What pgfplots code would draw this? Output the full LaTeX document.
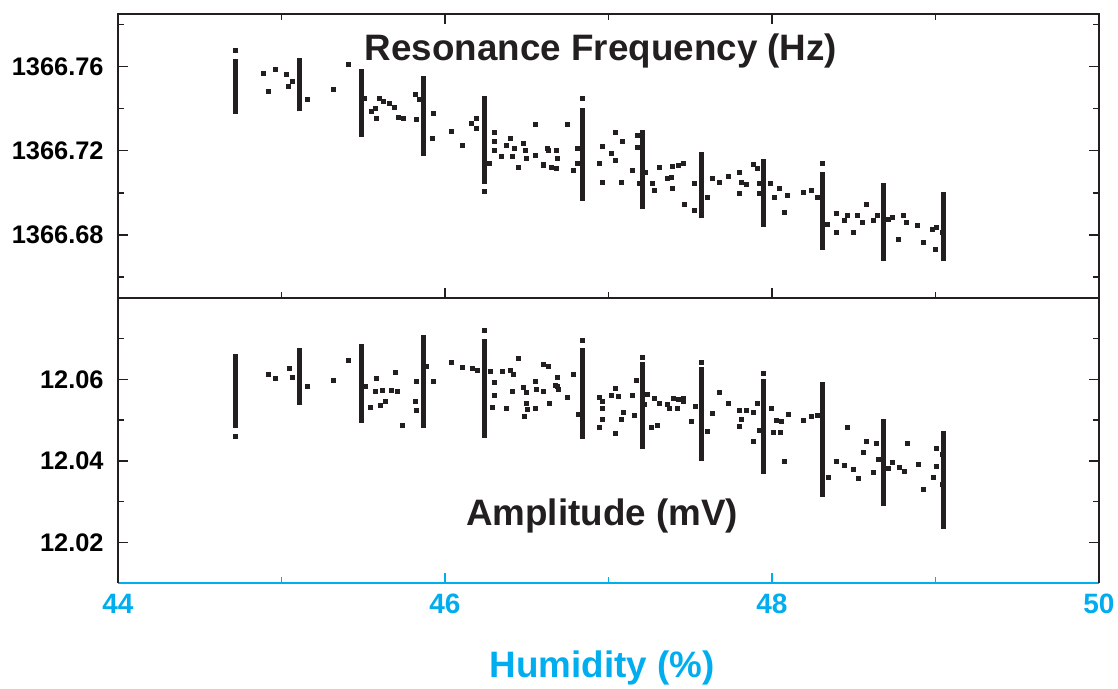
\documentclass[border=0pt]{standalone}
\usepackage{fontspec}
\setmainfont{Liberation Sans}
\setsansfont{Liberation Sans}
\usepackage{pgfplots}
\usepackage{pgfplotstable}
\pgfplotsset{compat=1.18}
\definecolor{hcyan}{RGB}{0,174,239}
\definecolor{ink}{RGB}{35,31,32}

% 1366.xxxx is too fine for the fpu mantissa: shift it by 1366 with plain TeX dimensions
\newdimen\fdim
\makeatletter
\pgfplotsset{freq shift/.style={
  y coord trafo/.code={%
    \pgfmathfloatparsenumber{##1}\pgfmathfloattofixed{\pgfmathresult}%
    \fdim=\pgfmathresult pt\relax\advance\fdim by -1366pt\relax
    \edef\pgfmathresult{\strip@pt\fdim}}}}
\makeatother

\pgfplotsset{
  panel/.style={
    scale only axis, width=490.5pt,
    xmin=44, xmax=50, xtick={44,46,48,50}, minor x tick num=1,
    tick align=inside,
    major tick length=5pt, minor tick length=3pt,
    tick style={ink, line width=0.7pt},
    axis line style={ink, line width=1pt},
    tick label style={font=\fontsize{12.7}{14}\selectfont\bfseries},
    /pgf/number format/assume math mode=true,
    xticklabel={\textbf{\pgfmathprintnumber{\tick}}},
    yticklabel={\textbf{\pgfmathprintnumber{\tick}}},
    yticklabel style={inner sep=0pt, xshift=-7pt},
  },
  clusterbar/.style={ink, line width=2.5pt, mark=none, forget plot},
  dots/.style={only marks, mark=square*, mark size=1pt, ink},
}

% resonance frequency, single points
\pgfplotstableread{
x y
44.720 1366.7675
44.888 1366.7568
44.965 1366.7587
44.921 1366.7483
45.032 1366.7565
45.065 1366.7531
45.043 1366.7504
45.157 1366.7443
45.320 1366.7491
45.408 1366.7611
45.506 1366.7451
45.550 1366.7387
45.572 1366.7400
45.583 1366.7355
45.598 1366.7451
45.626 1366.7435
45.659 1366.7427
45.692 1366.7406
45.714 1366.7358
45.747 1366.7355
45.817 1366.7467
45.823 1366.7347
45.845 1366.7443
45.928 1366.7379
45.926 1366.7259
46.037 1366.7294
46.107 1366.7227
46.162 1366.7331
46.194 1366.7352
46.194 1366.7307
46.240 1366.7006
46.271 1366.7139
46.303 1366.7286
46.303 1366.7243
46.303 1366.7203
46.347 1366.7171
46.375 1366.7227
46.398 1366.7259
46.413 1366.7171
46.424 1366.7211
46.446 1366.7123
46.478 1366.7235
46.489 1366.7203
46.500 1366.7163
46.550 1366.7326
46.555 1366.7179
46.599 1366.7134
46.631 1366.7203
46.653 1366.7123
46.686 1366.7163
46.626 1366.7211
46.683 1366.7203
46.604 1366.7131
46.683 1366.7115
46.746 1366.7323
46.784 1366.7107
46.807 1366.7211
46.807 1366.7139
46.840 1366.7451
46.942 1366.7139
46.965 1366.7219
46.965 1366.7051
47.016 1366.7187
47.044 1366.7288
47.044 1366.7155
47.077 1366.7051
47.088 1366.7243
47.144 1366.7107
47.178 1366.7272
47.178 1366.7214
47.190 1366.7043
47.223 1366.7099
47.268 1366.7043
47.280 1366.7011
47.314 1366.7123
47.359 1366.7067
47.382 1366.7075
47.393 1366.7126
47.389 1366.7019
47.426 1366.7131
47.456 1366.7139
47.467 1366.6947
47.524 1366.7043
47.528 1366.6915
47.607 1366.6979
47.636 1366.7067
47.681 1366.7051
47.731 1366.7080
47.798 1366.7096
47.814 1366.7051
47.798 1366.6995
47.843 1366.7038
47.884 1366.7136
47.911 1366.7115
47.920 1366.7043
47.920 1366.6995
47.990 1366.7046
48.012 1366.6979
48.046 1366.7019
48.096 1366.6990
48.076 1366.6907
48.195 1366.7000
48.238 1366.7011
48.276 1366.6979
48.310 1366.7139
48.340 1366.6851
48.396 1366.6902
48.396 1366.6811
48.441 1366.6867
48.464 1366.6891
48.498 1366.6811
48.524 1366.6891
48.554 1366.6859
48.576 1366.6944
48.621 1366.6867
48.644 1366.6891
48.711 1366.6875
48.734 1366.6883
48.772 1366.6779
48.801 1366.6891
48.823 1366.6859
48.892 1366.6846
48.925 1366.6766
48.982 1366.6827
49.004 1366.6835
49.000 1366.6731
49.040 1366.6811
}\freqdots

% amplitude, single points
\pgfplotstableread{
x y
44.720 12.0460
44.917 12.0612
44.965 12.0602
45.048 12.0627
45.065 12.0606
45.157 12.0582
45.320 12.0598
45.408 12.0647
45.511 12.0584
45.546 12.0532
45.572 12.0571
45.583 12.0602
45.605 12.0536
45.620 12.0574
45.633 12.0545
45.670 12.0574
45.696 12.0618
45.709 12.0570
45.742 12.0487
45.823 12.0594
45.817 12.0547
45.823 12.0524
45.928 12.0596
45.889 12.0633
46.042 12.0641
46.107 12.0630
46.166 12.0627
46.201 12.0621
46.240 12.0720
46.275 12.0619
46.303 12.0592
46.303 12.0561
46.288 12.0532
46.354 12.0619
46.375 12.0530
46.402 12.0623
46.420 12.0612
46.413 12.0570
46.446 12.0652
46.478 12.0581
46.500 12.0567
46.500 12.0542
46.485 12.0510
46.507 12.0526
46.550 12.0596
46.555 12.0530
46.560 12.0575
46.599 12.0637
46.600 12.0570
46.631 12.0633
46.640 12.0542
46.686 12.0604
46.686 12.0584
46.604 12.0571
46.637 12.0542
46.673 12.0586
46.694 12.0575
46.746 12.0555
46.788 12.0612
46.813 12.0515
46.840 12.0697
46.942 12.0556
46.960 12.0547
46.960 12.0529
46.942 12.0483
46.965 12.0503
47.016 12.0561
47.044 12.0577
47.060 12.0559
47.044 12.0467
47.077 12.0501
47.090 12.0520
47.144 12.0561
47.170 12.0598
47.160 12.0512
47.210 12.0655
47.235 12.0563
47.220 12.0538
47.264 12.0481
47.298 12.0487
47.280 12.0553
47.314 12.0541
47.359 12.0538
47.370 12.0529
47.397 12.0553
47.420 12.0530
47.426 12.0551
47.456 12.0553
47.460 12.0547
47.510 12.0497
47.530 12.0534
47.570 12.0641
47.607 12.0473
47.636 12.0516
47.681 12.0567
47.731 12.0540
47.798 12.0524
47.814 12.0501
47.798 12.0485
47.843 12.0524
47.884 12.0520
47.884 12.0448
47.911 12.0540
47.920 12.0474
47.950 12.0615
47.997 12.0529
48.024 12.0499
48.058 12.0497
48.010 12.0469
48.050 12.0469
48.076 12.0399
48.098 12.0514
48.195 12.0500
48.238 12.0510
48.276 12.0511
48.346 12.0359
48.396 12.0399
48.441 12.0389
48.464 12.0483
48.498 12.0378
48.531 12.0356
48.558 12.0421
48.576 12.0448
48.621 12.0371
48.639 12.0444
48.650 12.0403
48.711 12.0382
48.734 12.0396
48.779 12.0384
48.809 12.0374
48.829 12.0444
48.898 12.0392
48.925 12.0331
48.986 12.0360
49.004 12.0430
49.004 12.0386
49.040 12.0415
49.040 12.0341
}\ampdots

\begin{document}
\begin{tikzpicture}
\begin{axis}[panel, name=top, height=142pt, freq shift,
    ymin=1366.65, ymax=1366.785,
    ytick={1366.68,1366.72,1366.76},
    yticklabels={1366.68,1366.72,1366.76},
    minor ytick={1366.66,1366.70,1366.74,1366.78},
    xticklabels={}, tick pos=both]
  \addplot[dots] table[x=x, y=y] {\freqdots};
  \addplot[clusterbar] coordinates {(44.72,1366.7374) (44.72,1366.7635)};
  \addplot[clusterbar] coordinates {(45.11,1366.7387) (45.11,1366.7643)};
  \addplot[clusterbar] coordinates {(45.49,1366.7267) (45.49,1366.7590)};
  \addplot[clusterbar] coordinates {(45.87,1366.7176) (45.87,1366.7554)};
  \addplot[clusterbar] coordinates {(46.24,1366.7043) (46.24,1366.7459)};
  \addplot[clusterbar] coordinates {(46.84,1366.6960) (46.84,1366.7403)};
  \addplot[clusterbar] coordinates {(47.21,1366.6923) (47.21,1366.7300)};
  \addplot[clusterbar] coordinates {(47.57,1366.6878) (47.57,1366.7192)};
  \addplot[clusterbar] coordinates {(47.95,1366.6838) (47.95,1366.7160)};
  \addplot[clusterbar] coordinates {(48.31,1366.6728) (48.31,1366.7100)};
  \addplot[clusterbar] coordinates {(48.68,1366.6674) (48.68,1366.7048)};
  \addplot[clusterbar] coordinates {(49.05,1366.6674) (49.05,1366.7003)};
  \node[font=\fontsize{18.4}{20}\selectfont\bfseries, text=ink, anchor=base]
    at (axis description cs:0.4924,0.8345) {Resonance Frequency (Hz)};
\end{axis}

\begin{axis}[panel, at={(top.south west)}, anchor=north west, height=142.5pt,
    ymin=12.01, ymax=12.08,
    ytick={12.02,12.04,12.06}, minor ytick={12.03,12.05,12.07},
    separate axis lines, axis x line*=bottom, axis y line*=box,
    x axis line style={hcyan, line width=1.3pt},
    x tick style={hcyan},
    xticklabel style={text=hcyan, anchor=base, yshift=-15.5pt,
      font=\fontsize{14}{16}\selectfont\bfseries},
    yticklabel style={/pgf/number format/fixed, /pgf/number format/fixed zerofill,
      /pgf/number format/precision=2},
    xlabel={Humidity (\%)},
    xlabel style={at={(axis description cs:0.4935,0)}, anchor=base, yshift=-47.3pt,
      font=\fontsize{18.4}{20}\selectfont\bfseries, text=hcyan}]
  \addplot[dots] table[x=x, y=y] {\ampdots};
  \addplot[clusterbar] coordinates {(44.72,12.0481) (44.72,12.0663)};
  \addplot[clusterbar] coordinates {(45.11,12.0537) (45.11,12.0676)};
  \addplot[clusterbar] coordinates {(45.49,12.0493) (45.49,12.0686)};
  \addplot[clusterbar] coordinates {(45.87,12.0481) (45.87,12.0708)};
  \addplot[clusterbar] coordinates {(46.24,12.0456) (46.24,12.0699)};
  \addplot[clusterbar] coordinates {(46.84,12.0454) (46.84,12.0678)};
  \addplot[clusterbar] coordinates {(47.21,12.0428) (47.21,12.0644)};
  \addplot[clusterbar] coordinates {(47.57,12.0400) (47.57,12.0630)};
  \addplot[clusterbar] coordinates {(47.95,12.0368) (47.95,12.0602)};
  \addplot[clusterbar] coordinates {(48.31,12.0312) (48.31,12.0594)};
  \addplot[clusterbar] coordinates {(48.68,12.0288) (48.68,12.0503)};
  \addplot[clusterbar] coordinates {(49.05,12.0233) (49.05,12.0474)};
  \node[font=\fontsize{18.4}{20}\selectfont\bfseries, text=ink, anchor=base]
    at (axis description cs:0.4935,0.2) {Amplitude (mV)};
\end{axis}
\pgfresetboundingbox
\path[use as bounding box] (-59pt,-195.5pt) rectangle (500pt,149pt);
\end{tikzpicture}
\end{document}
